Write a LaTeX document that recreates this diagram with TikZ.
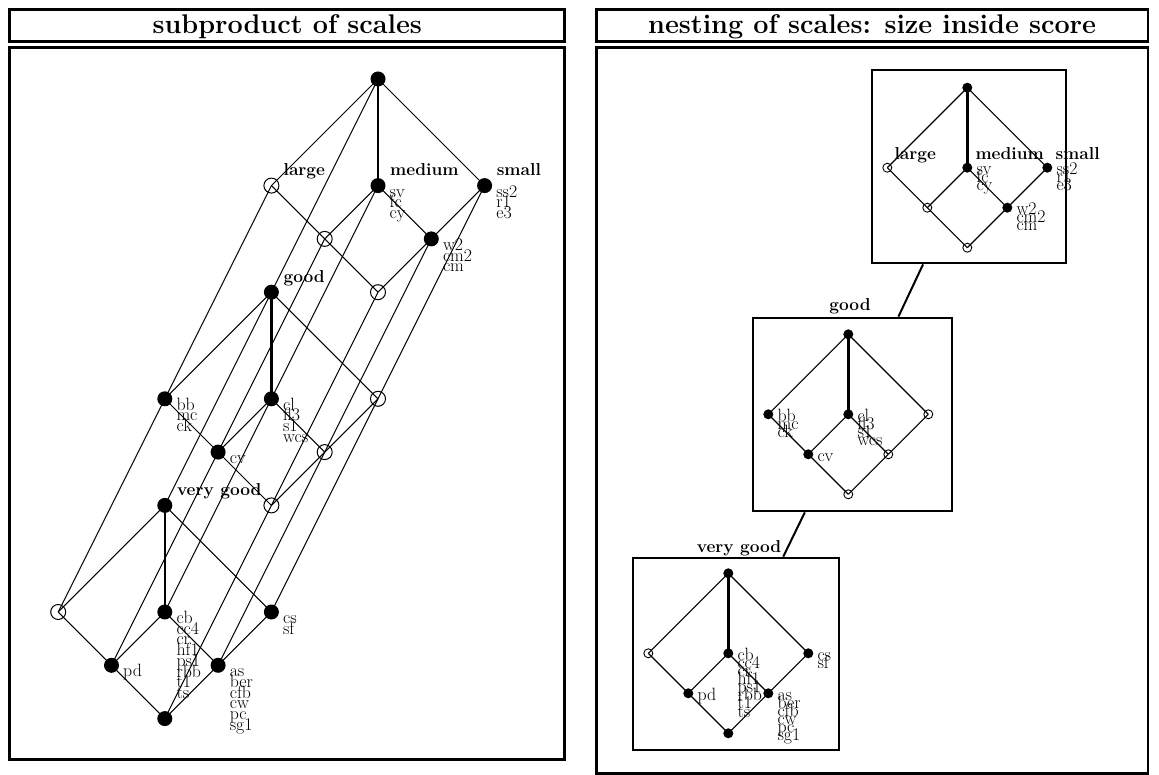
\documentclass[tikz,border=0pt]{standalone}
\usepackage{fontspec}
\usetikzlibrary{backgrounds}
\newcommand\olist[2]{\vtop{\baselineskip=#1pt\lineskiplimit=-100pt\lineskip=0pt\halign{##\hfil\cr#2\crcr}}}
\tikzset{
 lf/.style={circle,fill=black,inner sep=0pt,minimum size=15pt},
 le/.style={circle,draw=black,line width=1pt,inner sep=0pt,minimum size=15pt},
 rf/.style={circle,fill=black,inner sep=0pt,minimum size=10pt},
 re/.style={circle,draw=black,line width=0.9pt,inner sep=0pt,minimum size=9pt},
 ln/.style={line width=1pt},
 lnthick/.style={line width=2.6pt},
 rln/.style={line width=1.1pt},
 rlnthick/.style={line width=2.6pt},
 frame/.style={draw,line width=2.7pt},
 ttl/.style={font=\fontsize{27}{30}\selectfont\bfseries,anchor=base,inner sep=0pt},
 bl/.style={font=\fontsize{17.3}{20}\selectfont\bfseries,anchor=base west,inner sep=0pt},
 ol/.style={font=\fontsize{17.8}{11}\selectfont,anchor=base west,inner sep=0pt},
 boxn/.style={draw,line width=2.7pt,inner sep=0pt},
 link/.style={line width=2pt},
}
\begin{document}
\begin{tikzpicture}[x=1pt,y=-1pt]
\useasboundingbox (0,0) rectangle (1159,775);
% frames
\draw[frame] (9.7,9.7) rectangle (564.8,41.3);
\draw[frame] (9.7,47.3) rectangle (564.8,759.2);
\draw[frame] (596.2,9.7) rectangle (1148,41.3);
\draw[frame] (596.2,47.3) rectangle (1148,773.3);
\node[ttl] (t1) at (287.25,33.5) {subproduct of scales};
\node[ttl] (t2) at (872.1,33.5) {nesting of scales: size inside score};
% positions
\foreach \k in {0,1,2}{
  \foreach \n/\dx/\dy in {T/0/0,L/-2/2,M/0/2,S/2/2,A/-1/3,W/1/3,B/0/4}{
    \coordinate (pa-\k-\n) at ({378+\dx*53.3-\k*106.6},{79+\dy*53.3+\k*213.2});
  }
}
\foreach \k/\ox/\oy in {0/967.3/87.7,1/848.3/334.3,2/728.3/573.3}{
  \foreach \n/\dx/\dy in {T/0/0,L/-2/2,M/0/2,S/2/2,A/-1/3,W/1/3,B/0/4}{
    \coordinate (pb-\k-\n) at ({\ox+\dx*40},{\oy+\dy*40});
  }
}
% left nodes
\node[lf] (a-0-T) at (pa-0-T) {};
\node[le] (a-0-L) at (pa-0-L) {};
\node[lf] (a-0-M) at (pa-0-M) {};
\node[lf] (a-0-S) at (pa-0-S) {};
\node[le] (a-0-A) at (pa-0-A) {};
\node[lf] (a-0-W) at (pa-0-W) {};
\node[le] (a-0-B) at (pa-0-B) {};
\node[lf] (a-1-T) at (pa-1-T) {};
\node[lf] (a-1-L) at (pa-1-L) {};
\node[lf] (a-1-M) at (pa-1-M) {};
\node[le] (a-1-S) at (pa-1-S) {};
\node[lf] (a-1-A) at (pa-1-A) {};
\node[le] (a-1-W) at (pa-1-W) {};
\node[le] (a-1-B) at (pa-1-B) {};
\node[lf] (a-2-T) at (pa-2-T) {};
\node[le] (a-2-L) at (pa-2-L) {};
\node[lf] (a-2-M) at (pa-2-M) {};
\node[lf] (a-2-S) at (pa-2-S) {};
\node[lf] (a-2-A) at (pa-2-A) {};
\node[lf] (a-2-W) at (pa-2-W) {};
\node[lf] (a-2-B) at (pa-2-B) {};
% right nodes
\node[rf] (b-0-T) at (pb-0-T) {};
\node[re] (b-0-L) at (pb-0-L) {};
\node[rf] (b-0-M) at (pb-0-M) {};
\node[rf] (b-0-S) at (pb-0-S) {};
\node[re] (b-0-A) at (pb-0-A) {};
\node[rf] (b-0-W) at (pb-0-W) {};
\node[re] (b-0-B) at (pb-0-B) {};
\node[rf] (b-1-T) at (pb-1-T) {};
\node[rf] (b-1-L) at (pb-1-L) {};
\node[rf] (b-1-M) at (pb-1-M) {};
\node[re] (b-1-S) at (pb-1-S) {};
\node[rf] (b-1-A) at (pb-1-A) {};
\node[re] (b-1-W) at (pb-1-W) {};
\node[re] (b-1-B) at (pb-1-B) {};
\node[rf] (b-2-T) at (pb-2-T) {};
\node[re] (b-2-L) at (pb-2-L) {};
\node[rf] (b-2-M) at (pb-2-M) {};
\node[rf] (b-2-S) at (pb-2-S) {};
\node[rf] (b-2-A) at (pb-2-A) {};
\node[rf] (b-2-W) at (pb-2-W) {};
\node[rf] (b-2-B) at (pb-2-B) {};
% boxes
\node[boxn,minimum width=194pt,minimum height=193pt] (box0) at (969,166.5) {};
\node[boxn,minimum width=199pt,minimum height=193pt] (box1) at (852.5,414.5) {};
\node[boxn,minimum width=206pt,minimum height=192pt] (box2) at (736,654) {};
\draw[link] (box0) -- (box1);
\draw[link] (box1) -- (box2);
\node[bl,anchor=base] (glab) at (850,311) {good};
\node[bl,anchor=base] (vglab) at (739,552) {very good};
% edges
\begin{scope}[on background layer]
\foreach \k in {0,1,2}{
  \foreach \u/\v in {T/L,T/S,L/A,M/A,M/W,S/W,A/B,W/B}{
    \draw[ln] (a-\k-\u.center) -- (a-\k-\v.center);
    \draw[rln] (b-\k-\u.center) -- (b-\k-\v.center);
  }
  \draw[lnthick] (a-\k-T.center) -- (a-\k-M.center);
  \draw[rlnthick] (b-\k-T.center) -- (b-\k-M.center);
}
\foreach \n in {T,L,M,S,A,W,B}{
  \draw[ln] (a-0-\n.center) -- (a-1-\n.center) -- (a-2-\n.center);
}
\end{scope}
% left labels
\node[bl,xshift=12pt,yshift=10pt] at (a-0-L) {large};
\node[bl,xshift=12pt,yshift=10pt] at (a-0-M) {medium};
\node[bl,xshift=12pt,yshift=10pt] at (a-0-S) {small};
\node[bl,xshift=12pt,yshift=10pt] at (a-1-T) {good};
\node[bl,xshift=12pt,yshift=10pt] at (a-2-T) {very good};
\node[ol,xshift=11.5pt,yshift=-11.5pt] at (a-0-M) {\olist{10.7}{sv\cr fc\cr cy}};
\node[ol,xshift=11.5pt,yshift=-11.5pt] at (a-0-S) {\olist{10.7}{ss2\cr r1\cr e3}};
\node[ol,xshift=11.5pt,yshift=-11.5pt] at (a-0-W) {\olist{10.7}{w2\cr cm2\cr cm}};
\node[ol,xshift=11.5pt,yshift=-11.5pt] at (a-1-L) {\olist{10.7}{bb\cr mc\cr ck}};
\node[ol,xshift=11.5pt,yshift=-11.5pt] at (a-1-M) {\olist{10.7}{cl\cr fl3\cr s1\cr wcs}};
\node[ol,xshift=11.5pt,yshift=-11.5pt] at (a-1-A) {\olist{10.7}{cv}};
\node[ol,xshift=11.5pt,yshift=-11.5pt] at (a-2-M) {\olist{10.7}{cb\cr cc4\cr cr\cr hf1\cr ps1\cr rbb\cr t1\cr ts}};
\node[ol,xshift=11.5pt,yshift=-11.5pt] at (a-2-S) {\olist{10.7}{cs\cr sf}};
\node[ol,xshift=11.5pt,yshift=-11.5pt] at (a-2-A) {\olist{10.7}{pd}};
\node[ol,xshift=11.5pt,yshift=-11.5pt] at (a-2-W) {\olist{10.7}{as\cr ber\cr cfb\cr cw\cr pc\cr sg1}};
% right labels
\node[bl,xshift=7pt,yshift=8pt] at (b-0-L) {large};
\node[bl,xshift=8pt,yshift=8pt] at (b-0-M) {medium};
\node[bl,xshift=8pt,yshift=8pt] at (b-0-S) {small};
\node[ol,xshift=9pt,yshift=-7pt] at (b-0-M) {\olist{8.1}{sv\cr fc\cr cy}};
\node[ol,xshift=9pt,yshift=-7pt] at (b-0-S) {\olist{8.1}{ss2\cr r1\cr e3}};
\node[ol,xshift=9pt,yshift=-7pt] at (b-0-W) {\olist{8.1}{w2\cr cm2\cr cm}};
\node[ol,xshift=9pt,yshift=-7pt] at (b-1-L) {\olist{8.1}{bb\cr mc\cr ck}};
\node[ol,xshift=9pt,yshift=-7pt] at (b-1-M) {\olist{8.1}{cl\cr fl3\cr s1\cr wcs}};
\node[ol,xshift=9pt,yshift=-7pt] at (b-1-A) {\olist{8.1}{cv}};
\node[ol,xshift=9pt,yshift=-7pt] at (b-2-M) {\olist{8.1}{cb\cr cc4\cr cr\cr hf1\cr ps1\cr rbb\cr t1\cr ts}};
\node[ol,xshift=9pt,yshift=-7pt] at (b-2-S) {\olist{8.1}{cs\cr sf}};
\node[ol,xshift=9pt,yshift=-7pt] at (b-2-A) {\olist{8.1}{pd}};
\node[ol,xshift=9pt,yshift=-7pt] at (b-2-W) {\olist{8.1}{as\cr ber\cr cfb\cr cw\cr pc\cr sg1}};
\end{tikzpicture}
\end{document}
